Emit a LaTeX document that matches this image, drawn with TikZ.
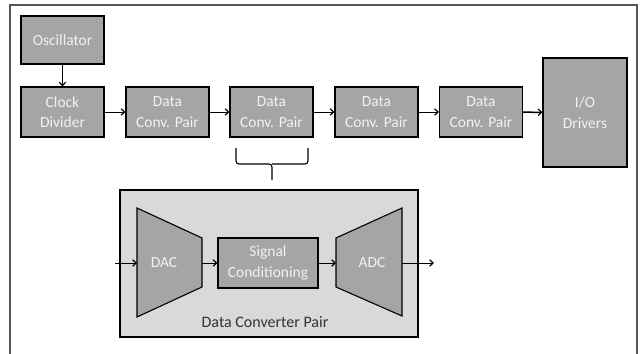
\documentclass[tikz,border=0pt]{standalone}
\usepackage{fontspec}
\setmainfont{Carlito}
\usetikzlibrary{arrows.meta}
\definecolor{boxfill}{HTML}{A5A5A5}
\definecolor{boxtext}{HTML}{F2F2F2}
\definecolor{outerfill}{HTML}{D9D9D9}
\definecolor{framecol}{HTML}{555555}
\tikzset{
  blk/.style={draw=black, line width=1.1pt, fill=boxfill, text=boxtext, align=center,
    font=\fontsize{15.5}{20.5}\selectfont, inner sep=0pt},
  conn/.style={line width=0.9pt, -{Straight Barb[length=3.5pt,width=6.5pt,line width=1.2pt]}},
  brace/.style={line width=1.1pt, rounded corners=3pt},
}
\begin{document}
\begin{tikzpicture}[x=1pt,y=-1pt]
\useasboundingbox (0,0) rectangle (641,354);
% outer frame
\draw[framecol, line width=1.6pt] (10,360) -- (10,5) -- (637,5) -- (637,360);
% top chain
\node[blk, minimum width=83pt, minimum height=48pt] (osc) at (62.5,40) {Oscillator};
\node[blk, minimum width=83pt, minimum height=50pt] (clk) at (62.5,112) {Clock\\Divider};
\node[blk, minimum width=83pt, minimum height=50pt] (d1) at (167.5,112) {Data\\Conv. Pair};
\node[blk, minimum width=83pt, minimum height=50pt] (d2) at (271.5,112) {Data\\Conv. Pair};
\node[blk, minimum width=83pt, minimum height=50pt] (d3) at (376.5,112) {Data\\Conv. Pair};
\node[blk, minimum width=83pt, minimum height=50pt] (d4) at (481,112) {Data\\Conv. Pair};
\node[blk, minimum width=84pt, minimum height=109pt] (io) at (585,112.5) {I/O\\Drivers};
\draw[conn] (osc) -- (clk);
\draw[conn] (clk) -- (d1);
\draw[conn] (d1) -- (d2);
\draw[conn] (d2) -- (d3);
\draw[conn] (d3) -- (d4);
\draw[conn, line width=1.5pt] (d4) -- (io);
% brace
\coordinate (bl) at (236,148);
\coordinate (br) at (308,148);
\coordinate (bm) at (272,164);
\coordinate (bs) at (272,180);
\draw[brace] (bl) -- (236,164) -- (bm) -- (bs);
\draw[brace] (br) -- (308,164) -- (bm);
% data converter pair box
\node[draw=black, line width=1.1pt, fill=outerfill, minimum width=298pt, minimum height=147pt, inner sep=0pt] (dcp) at (269,263.5) {};
\node[font=\fontsize{16}{18}\selectfont, text=black!80] (dcplbl) at (265,322) {Data Converter Pair};
% DAC
\coordinate (dac1) at (137,208);
\coordinate (dac2) at (202,238);
\coordinate (dac3) at (202,287);
\coordinate (dac4) at (137,317);
\draw[draw=black, line width=1.1pt, fill=boxfill] (dac1) -- (dac2) -- (dac3) -- (dac4) -- cycle;
\node[text=boxtext, font=\fontsize{15.5}{18}\selectfont] (dac) at (164,263) {DAC};
% ADC
\coordinate (adc1) at (336,238);
\coordinate (adc2) at (402,208);
\coordinate (adc3) at (402,316);
\coordinate (adc4) at (336,287);
\draw[draw=black, line width=1.1pt, fill=boxfill] (adc1) -- (adc2) -- (adc3) -- (adc4) -- cycle;
\node[text=boxtext, font=\fontsize{15.5}{18}\selectfont] (adc) at (372,263) {ADC};
% signal conditioning
\node[blk, minimum width=100pt, minimum height=50pt] (sc) at (268,263) {Signal\\Conditioning};
% connectors
\coordinate (din) at (115,263);
\coordinate (dacl) at (137,263);
\coordinate (dacr) at (202,263);
\coordinate (adcl) at (336,263);
\coordinate (adcr) at (402,263);
\coordinate (dout) at (434,263);
\draw[conn] (din) -- (dacl);
\draw[conn] (dacr) -- (sc.west);
\draw[conn] (sc.east) -- (adcl);
\draw[conn] (adcr) -- (dout);
\end{tikzpicture}
\end{document}
